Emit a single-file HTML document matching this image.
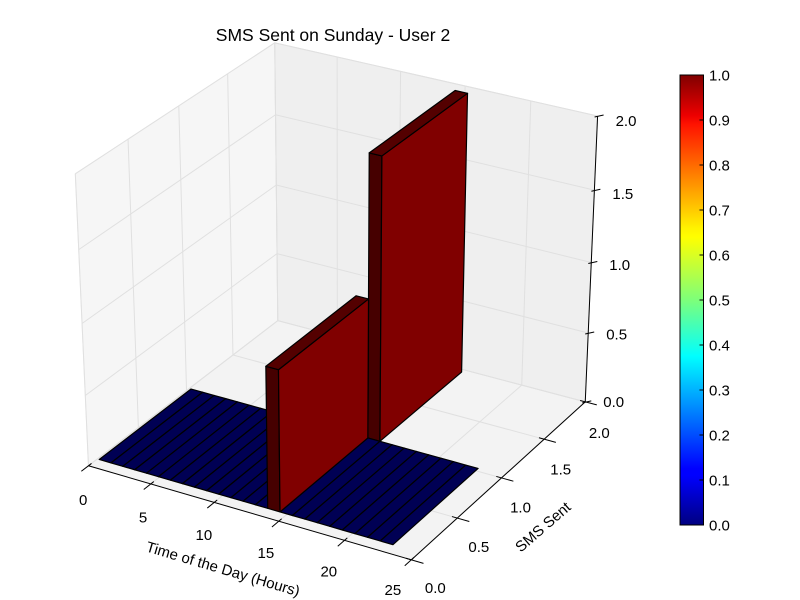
<!DOCTYPE html>
<html>
<head>
<meta charset="utf-8">
<style>
  html, body { margin: 0; padding: 0; background: #ffffff; }
  svg { display: block; font-family: "Liberation Sans", "DejaVu Sans", sans-serif; }
</style>
</head>
<body>
<svg id="chart" width="800" height="600" viewBox="0 0 800 600" xmlns="http://www.w3.org/2000/svg">
  <defs>
    <linearGradient id="jet" x1="0" y1="1" x2="0" y2="0">
      <stop offset="0" stop-color="#000080"/>
      <stop offset="0.11" stop-color="#0000ff"/>
      <stop offset="0.125" stop-color="#0000ff"/>
      <stop offset="0.34" stop-color="#00dbff"/>
      <stop offset="0.375" stop-color="#00ffff"/>
      <stop offset="0.5" stop-color="#7dff7a"/>
      <stop offset="0.64" stop-color="#ffff00"/>
      <stop offset="0.66" stop-color="#fff200"/>
      <stop offset="0.89" stop-color="#ff1300"/>
      <stop offset="0.91" stop-color="#ed0000"/>
      <stop offset="1" stop-color="#800000"/>
    </linearGradient>
  </defs>
  <text x="333" y="41" font-size="17.5" text-anchor="middle" fill="#000">SMS Sent on Sunday - User 2</text>
  <g id="panes"></g>
  <g id="grid"></g>
  <g id="axes"></g>
  <g id="bars"></g>
  <g id="labels"></g>
  <g id="colorbar"></g>
</svg>
<script>
// ---- data ----
const hours = [0,1,2,3,4,5,6,7,8,9,10,11,12,13,14,15,16,17,18,19,20,21,22,23];
const smsRow0Heights = [0,0,0,0,0,0,0,0,0,0,0,0,0,0,1,0,0,0,0,0,0,0,0,0];
const smsRow1Heights = [0,0,0,0,0,0,0,0,0,0,0,0,0,0,0,2,0,0,0,0,0,0,0,0];
const xTicks = [0,5,10,15,20,25];
const yTicks = [0,0.5,1.0,1.5,2.0];
const zTicks = [0,0.5,1.0,1.5,2.0];
const xTickLabels = ["0","5","10","15","20","25"];
const yTickLabels = ["0.0","0.5","1.0","1.5","2.0"];
const zTickLabels = ["0.0","0.5","1.0","1.5","2.0"];
const cbTicks = [0,0.1,0.2,0.3,0.4,0.5,0.6,0.7,0.8,0.9,1.0];
const cbTickLabels = ["0.0","0.1","0.2","0.3","0.4","0.5","0.6","0.7","0.8","0.9","1.0"];

// ---- projection (matplotlib-style) ----
const NS = "http://www.w3.org/2000/svg";
const xmin=0,xmax=25,ymin=0,ymax=2,zmin=0,zmax=2;
const el=30*Math.PI/180, az=-60*Math.PI/180, dist=10;
const E=[0.5+Math.cos(az)*Math.cos(el)*dist, 0.5+Math.sin(az)*Math.cos(el)*dist, 0.5+Math.sin(el)*dist];
function nrm(a){const l=Math.hypot(a[0],a[1],a[2]);return [a[0]/l,a[1]/l,a[2]/l];}
function cross(a,b){return [a[1]*b[2]-a[2]*b[1],a[2]*b[0]-a[0]*b[2],a[0]*b[1]-a[1]*b[0]];}
const nV=nrm([E[0]-0.5,E[1]-0.5,E[2]-0.5]);
const uV=nrm(cross([0,0,1],nV));
const vV=cross(nV,uV);
function raw(x,y,z){
  const p=[(x-xmin)/(xmax-xmin),(y-ymin)/(ymax-ymin),(z-zmin)/(zmax-zmin)];
  const d=[p[0]-E[0],p[1]-E[1],p[2]-E[2]];
  const vx=d[0]*uV[0]+d[1]*uV[1]+d[2]*uV[2];
  const vy=d[0]*vV[0]+d[1]*vV[1]+d[2]*vV[2];
  const vz=d[0]*nV[0]+d[1]*nV[1]+d[2]*nV[2];
  return [vx/(-vz), vy/(-vz), -vz];
}
const calib=[[0,0,2,75,170],[0,2,2,273,43],[0,2,0,278,317],[25,2,0,583,405],[25,0,0,415,560],[25,2,2,598,120]];
function fit(idx, sign){
  const t=calib.map(c=>raw(c[0],c[1],c[2])[idx]*sign), s=calib.map(c=>c[3+idx]);
  const mt=t.reduce((a,b)=>a+b)/t.length, ms=s.reduce((a,b)=>a+b)/s.length;
  let num=0,den=0; for(let i=0;i<t.length;i++){num+=(t[i]-mt)*(s[i]-ms);den+=(t[i]-mt)**2;}
  const k=num/den; return [ms-k*mt,k];
}
const FX=fit(0,1), FY=fit(1,-1);
function P(x,y,z){const r=raw(x,y,z);return [FX[0]+FX[1]*r[0], FY[0]+FY[1]*(-r[1]), r[2]];}
// data-space -> box-space (matplotlib pads the box slightly around the data)
function D(x,y,z){return P(0.26+0.952*x, 0.075+0.94*y, 0.01+0.985*z);}
function fmt(q){return q[0].toFixed(2)+","+q[1].toFixed(2);}
function pts(list){return list.map(p=>fmt(P(p[0],p[1],p[2]))).join(" ");}
function dpts(list){return list.map(p=>fmt(D(p[0],p[1],p[2]))).join(" ");}
function mk(tag, attrs, parent){const e=document.createElementNS(NS,tag);for(const k in attrs)e.setAttribute(k,attrs[k]);parent.appendChild(e);return e;}

const gPanes=document.getElementById('panes'), gGrid=document.getElementById('grid'), gAxes=document.getElementById('axes'), gBars=document.getElementById('bars'), gLab=document.getElementById('labels'), gCb=document.getElementById('colorbar');

// panes
let pane;
pane=mk('polygon',{points:pts([[xmin,ymin,zmin],[xmin,ymax,zmin],[xmin,ymax,zmax],[xmin,ymin,zmax]]),fill:'#f6f6f6',stroke:'#ececec','stroke-width':1},gPanes);


pane=mk('polygon',{points:pts([[xmin,ymax,zmin],[xmax,ymax,zmin],[xmax,ymax,zmax],[xmin,ymax,zmax]]),fill:'#efefef',stroke:'#e6e6e6','stroke-width':1},gPanes);


pane=mk('polygon',{points:pts([[xmin,ymin,zmin],[xmax,ymin,zmin],[xmax,ymax,zmin],[xmin,ymax,zmin]]),fill:'#f3f3f3',stroke:'#ececec','stroke-width':1},gPanes);



// grid lines
const GC='#e0e0e0';
xTicks.forEach(x=>{
  let l=mk('polyline',{points:pts([[x,ymin,zmin],[x,ymax,zmin],[x,ymax,zmax]]),fill:'none',stroke:GC,'stroke-width':1},gGrid);
  
  
});
yTicks.forEach(y=>{
  let l=mk('polyline',{points:pts([[xmax,y,zmin],[xmin,y,zmin],[xmin,y,zmax]]),fill:'none',stroke:GC,'stroke-width':1},gGrid);
  
  
});
zTicks.forEach(z=>{
  let l=mk('polyline',{points:pts([[xmin,ymin,z],[xmin,ymax,z],[xmax,ymax,z]]),fill:'none',stroke:GC,'stroke-width':1},gGrid);
  
  
});

// axis spines and ticks
let sp;
sp=mk('polyline',{points:pts([[xmin,ymin,zmin],[xmax,ymin,zmin]]),fill:'none',stroke:'#000','stroke-width':1},gAxes);


sp=mk('polyline',{points:pts([[xmax,ymin,zmin],[xmax,ymax,zmin]]),fill:'none',stroke:'#000','stroke-width':1},gAxes);


sp=mk('polyline',{points:pts([[xmax,ymax,zmin],[xmax,ymax,zmax]]),fill:'none',stroke:'#000','stroke-width':1},gAxes);



xTicks.forEach((x,i)=>{
  let t=mk('polyline',{points:pts([[x,ymin+0.03,zmin],[x,ymin-0.07,zmin]]),fill:'none',stroke:'#000','stroke-width':1},gAxes);
  
  
  const p=P(0.3+0.96*x,ymin,zmin);
  let tx=mk('text',{x:(p[0]-9).toFixed(1),y:(p[1]+38).toFixed(1),'font-size':15,'text-anchor':'middle',fill:'#000'},gLab);
  tx.textContent=xTickLabels[i];
  
  
});
yTicks.forEach((y,i)=>{
  let t=mk('polyline',{points:pts([[xmax-0.4,y,zmin],[xmax+0.9,y,zmin]]),fill:'none',stroke:'#000','stroke-width':1},gAxes);
  
  
  const p=P(xmax,y,zmin);
  let tx=mk('text',{x:(p[0]+24-5*y).toFixed(1),y:(p[1]+33+1.5*y).toFixed(1),'font-size':15,'text-anchor':'middle',fill:'#000'},gLab);
  tx.textContent=yTickLabels[i];
  
  
});
zTicks.forEach((z,i)=>{
  const p=P(xmax,ymax,z);
  let t=mk('line',{x1:(p[0]-3).toFixed(1),y1:(p[1]+1).toFixed(1),x2:(p[0]+6).toFixed(1),y2:(p[1]-1).toFixed(1),stroke:'#000','stroke-width':1},gAxes);
  
  
  let tx=mk('text',{x:(p[0]+18).toFixed(1),y:(p[1]+5+2.5*z).toFixed(1),'font-size':15,'text-anchor':'start',fill:'#000'},gLab);
  tx.textContent=zTickLabels[i];
  
  
});

// axis titles
let at=mk('text',{x:223,y:574,'font-size':15,'text-anchor':'middle',fill:'#000',transform:'rotate(16.5 223 569)'},gLab);
at.textContent='Time of the Day (Hours)';


at=mk('text',{x:543,y:532,'font-size':15,'text-anchor':'middle',fill:'#000',transform:'rotate(-41 543 527)'},gLab);
at.textContent='SMS Sent';



// ---- bars ----
function jetRGB(v){
  function seg(pts){for(let i=1;i<pts.length;i++){if(v<=pts[i][0]){const a=pts[i-1],b=pts[i];return a[1]+(b[1]-a[1])*(v-a[0])/(b[0]-a[0]);}}return pts[pts.length-1][1];}
  return [seg([[0,0],[0.35,0],[0.66,1],[0.89,1],[1,0.5]]),seg([[0,0],[0.125,0],[0.375,1],[0.64,1],[0.91,0],[1,0]]),seg([[0,0.5],[0.11,1],[0.34,1],[0.65,0],[1,0]])];
}
function shade(c,f){return 'rgb('+c.map(v=>Math.round(v*255*f)).join(',')+')';}
const bars=[];
hours.forEach((h,i)=>{ bars.push({x:h,y:0,h:smsRow0Heights[i]}); });
hours.forEach((h,i)=>{ if(smsRow1Heights[i]>0) bars.push({x:h,y:1,h:smsRow1Heights[i]}); });
bars.forEach(b=>{ b.depth=D(b.x+0.5,b.y+0.5,b.h/2)[2]; });
bars.sort((a,b)=>b.depth-a.depth);
bars.forEach(b=>{
  const c=jetRGB(b.h>0?1:0);
  const x0=b.x,x1=b.x+1,y0=b.y,y1=b.y+1,z1=b.h;
  const g=mk('g',{},gBars);
  
  
  if(b.h>0){
    let f=mk('polygon',{points:dpts([[x0,y0,0],[x1,y0,0],[x1,y0,z1],[x0,y0,z1]]),fill:shade(c,0.55),stroke:'#000','stroke-width':1.2,'stroke-linejoin':'round'},g);
    
    
    f=mk('polygon',{points:dpts([[x1,y0,0],[x1,y1,0],[x1,y1,z1],[x1,y0,z1]]),fill:shade(c,1.0),stroke:'#000','stroke-width':1.2,'stroke-linejoin':'round'},g);
    
    
  }
  let t=mk('polygon',{points:dpts([[x0,y0,z1],[x1,y0,z1],[x1,y1,z1],[x0,y1,z1]]),fill:shade(c,0.66),stroke:'#000','stroke-width':1.2,'stroke-linejoin':'round'},g);
  
  
});

// ---- colorbar ----
const cbX=680,cbW=23.5,cbTop=75,cbBot=525;
function cbY(v){return cbBot-(cbBot-cbTop)*v;}
let cb=mk('rect',{x:cbX,y:cbTop,width:cbW,height:cbBot-cbTop,fill:'url(#jet)',stroke:'#000','stroke-width':1},gCb);


cbTicks.forEach((v,i)=>{
  const y=cbY(v);
  let t=mk('line',{x1:cbX+cbW-4,y1:y,x2:cbX+cbW,y2:y,stroke:'#000','stroke-width':1},gCb);
  
  
  let tx=mk('text',{x:cbX+cbW+5.5,y:(y+5.5).toFixed(1),'font-size':15,fill:'#000'},gCb);
  tx.textContent=cbTickLabels[i];
  
  
});
</script>
</body>
</html>
